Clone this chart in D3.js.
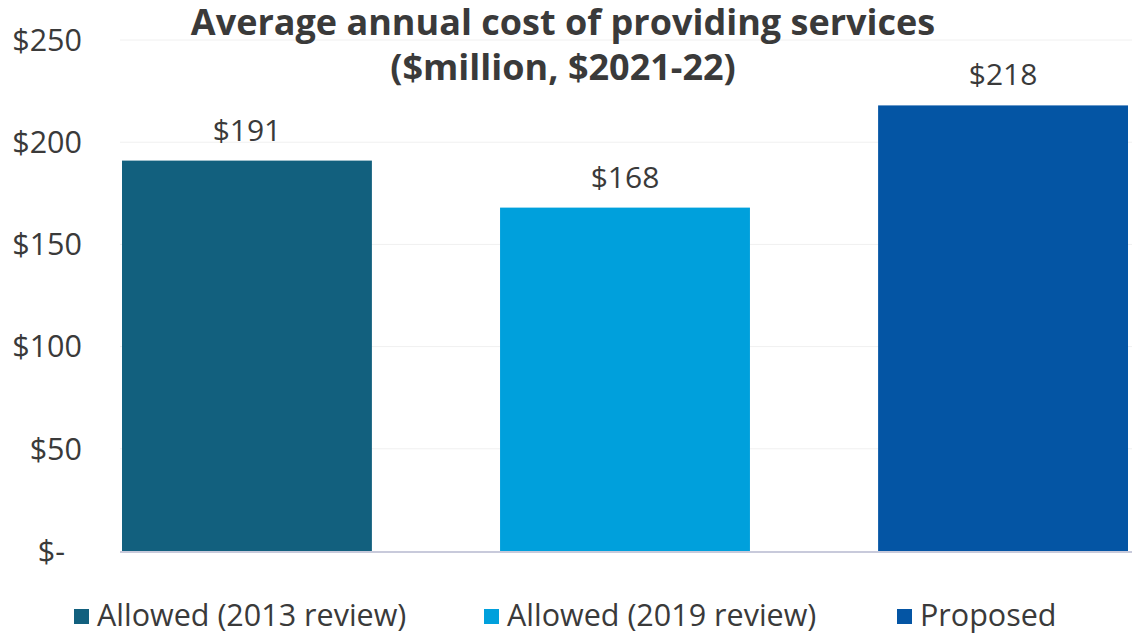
<!DOCTYPE html>
<html>
<head>
<meta charset="utf-8">
<script src="https://cdn.jsdelivr.net/npm/d3@7"></script>
<style>
  html, body { margin: 0; padding: 0; background: #fff; }
  svg { display: block; font-family: "Open Sans", Lato, sans-serif; }
</style>
</head>
<body>
<svg id="chart" width="1132" height="635"></svg>
<script>
// Average annual cost of providing services ($million, $2021-22)
const categories = ["Allowed (2013 review)", "Allowed (2019 review)", "Proposed"];
const values = [191, 168, 218];
const colors = ["#12607e", "#00a0dc", "#0455a4"];
const yTicks = [0, 50, 100, 150, 200, 250];
const titleLines = ["Average annual cost of providing services", "($million, $2021-22)"];

const svg = d3.select("#chart");
const textColor = "#3a3a3a";
const font = "'Open Sans', Lato, sans-serif";

const x = d3.scaleBand()
  .domain(categories)
  .range([122, 1128])
  .paddingInner(0.339)
  .paddingOuter(0);

const y = d3.scaleLinear()
  .domain([0, 250])
  .range([551, 40]);

// horizontal gridlines
svg.append("g")
  .selectAll("line")
  .data(yTicks.filter(d => d > 0))
  .join("line")
  .attr("x1", 120).attr("x2", 1132)
  .attr("y1", d => y(d)).attr("y2", d => y(d))
  .attr("stroke", "#f0f0f0")
  .attr("stroke-width", 1);

// y axis labels (accounting style: zero shown as "$-")
const yAxis = d3.axisLeft(y)
  .tickValues(yTicks)
  .tickSize(0)
  .tickPadding(0)
  .tickFormat(d => d === 0 ? "$-" : "$" + d);

const yg = svg.append("g")
  .attr("transform", "translate(82,0)")
  .call(yAxis);
yg.select(".domain").remove();
yg.selectAll("text")
  .attr("fill", textColor)
  .attr("font-size", 30.5)
  .attr("font-family", font)
  .attr("dy", "0.34em")
  .attr("dx", d => d === 0 ? -17 : 0);

// bars
svg.append("g")
  .selectAll("rect")
  .data(values)
  .join("rect")
  .attr("x", (d, i) => x(categories[i]))
  .attr("y", d => y(d))
  .attr("width", x.bandwidth())
  .attr("height", d => y(0) - y(d))
  .attr("fill", (d, i) => colors[i]);

// value labels
svg.append("g")
  .selectAll("text")
  .data(values)
  .join("text")
  .attr("x", (d, i) => x(categories[i]) + x.bandwidth() / 2)
  .attr("y", d => y(d) - 20)
  .attr("text-anchor", "middle")
  .attr("fill", textColor)
  .attr("font-size", 30)
  .text(d => "$" + d);

// baseline
svg.append("line")
  .attr("x1", 120).attr("x2", 1132)
  .attr("y1", y(0) + 1).attr("y2", y(0) + 1)
  .attr("stroke", "#c8cadb")
  .attr("stroke-width", 2);

// title
svg.append("g")
  .selectAll("text")
  .data(titleLines)
  .join("text")
  .attr("x", 563)
  .attr("y", (d, i) => 35 + i * 45)
  .attr("text-anchor", "middle")
  .attr("fill", textColor)
  .attr("font-size", 36)
  .attr("font-weight", 700)
  .text(d => d);

// legend
const legendX = [74, 484, 897];
const lg = svg.append("g")
  .selectAll("g")
  .data(categories)
  .join("g")
  .attr("transform", (d, i) => `translate(${legendX[i]},0)`);
lg.append("rect")
  .attr("x", 0).attr("y", 609)
  .attr("width", 15).attr("height", 15)
  .attr("fill", (d, i) => colors[i]);
lg.append("text")
  .attr("x", 23).attr("y", 626)
  .attr("fill", textColor)
  .attr("font-size", 30.5)
  .text(d => d);
</script>
</body>
</html>
